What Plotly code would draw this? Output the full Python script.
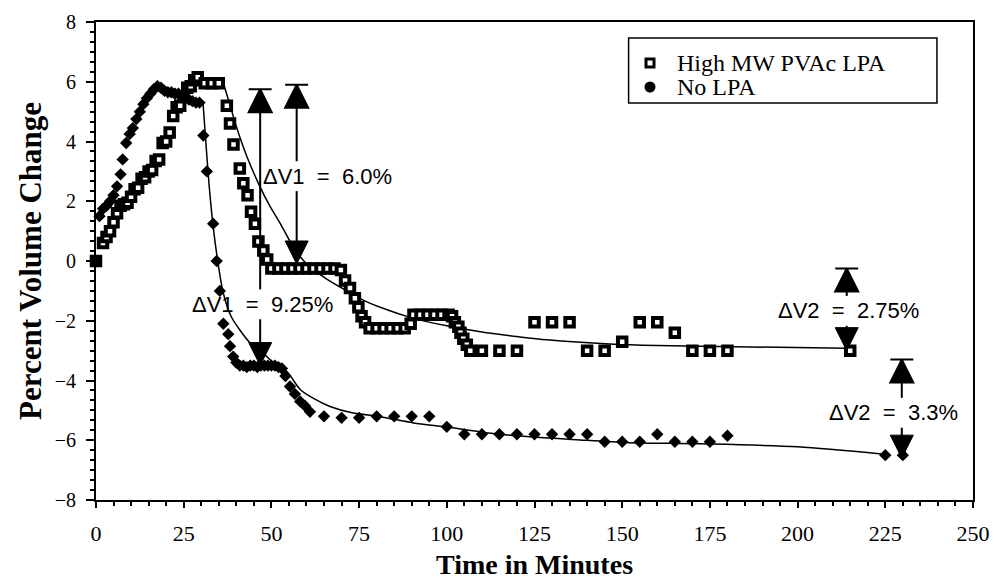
import plotly.graph_objects as go

# ---- measured volume change (%) versus time (min) ----
pvac_time = [0, 2, 3, 4, 5, 6, 7, 8, 9, 10, 11, 12, 13, 14, 15, 16, 17, 18, 19, 20,
             21, 22, 23, 24, 25, 26, 27, 28, 29, 31, 33, 35, 37.3, 38.2, 39.2, 41, 42,
             43.2, 44.2, 45.3, 46.3, 47.7, 48.8, 50, 52, 54, 56, 58, 60, 62, 64, 66, 68,
             69.8, 71, 72.4, 73.8, 74.8, 75.7, 76.7, 78, 80, 82, 84, 86, 88, 89.7, 90.5,
             92.5, 94.5, 96.5, 98.5, 100.5, 101.5, 102.3, 103.3, 103.9, 104.7, 105.7,
             106.7, 110, 115, 120, 125, 130, 135, 140, 145, 150, 155, 160, 165, 170,
             175, 180, 215]
pvac_change = [0, 0.6, 0.8, 1.0, 1.3, 1.6, 1.85, 1.9, 1.95, 2.15, 2.4, 2.45, 2.75, 2.8,
               3.0, 3.05, 3.35, 3.4, 3.95, 4.0, 4.3, 4.85, 5.15, 5.2, 5.5, 5.8, 5.85,
               6.05, 6.15, 5.95, 5.95, 5.95, 5.2, 4.6, 3.9, 3.1, 2.6, 2.2, 1.65, 1.25,
               0.65, 0.35, 0.05, -0.25, -0.25, -0.25, -0.25, -0.25, -0.25, -0.25, -0.25,
               -0.25, -0.25, -0.3, -0.65, -0.9, -1.25, -1.55, -1.85, -2.05, -2.25, -2.25,
               -2.25, -2.25, -2.25, -2.25, -2.1, -1.8, -1.8, -1.8, -1.8, -1.8, -1.8,
               -1.85, -2.05, -2.2, -2.4, -2.6, -2.8, -3.0, -3.0, -3.0, -3.0, -2.05,
               -2.05, -2.05, -3.0, -3.0, -2.7, -2.05, -2.05, -2.4, -3.0, -3.0, -3.0, -3.0]

nolpa_time = [0, 1, 2, 3, 4, 5, 6, 7, 7.6, 8.6, 9.6, 10.5, 11.5, 12.5, 13.5, 14.5, 15.5,
              16.5, 17.5, 18.5, 19.5, 20.5, 21.5, 22.5, 23.5, 24.5, 25.5, 26.5, 27.5,
              28.5, 29.5, 30.6, 31.6, 33.4, 34.4, 35.3, 36.3, 37.7, 38.2, 39.1, 40, 41,
              42, 43, 44, 45, 46, 47, 48, 49, 50, 51, 52, 53, 54, 55.3, 56.7, 58.2, 59.6,
              61, 65, 70, 75, 80, 85, 90, 95, 100, 105, 110, 115, 120, 125, 130, 135,
              140, 145, 150, 155, 160, 165, 170, 175, 180, 225, 230]
nolpa_change = [0, 1.5, 1.75, 1.85, 2.0, 2.2, 2.5, 2.9, 3.4, 3.95, 4.25, 4.45, 4.75, 5.0,
                5.25, 5.45, 5.6, 5.75, 5.85, 5.8, 5.7, 5.65, 5.65, 5.6, 5.6, 5.55, 5.45,
                5.4, 5.35, 5.3, 5.3, 4.2, 3.0, 1.25, 0.0, -1.0, -2.1, -2.45, -2.85, -3.2,
                -3.4, -3.5, -3.5, -3.55, -3.5, -3.5, -3.55, -3.5, -3.5, -3.5, -3.5, -3.5,
                -3.55, -3.6, -3.85, -4.2, -4.45, -4.7, -4.85, -5.05, -5.2, -5.25, -5.25,
                -5.2, -5.2, -5.2, -5.2, -5.55, -5.8, -5.8, -5.8, -5.8, -5.8, -5.8, -5.8,
                -5.8, -6.05, -6.05, -6.05, -5.8, -6.05, -6.05, -6.05, -5.85, -6.5, -6.5]

# ---- fitted decay curves ----
pvac_fit_time = [36.2, 38, 40, 43, 46.7, 49.5, 52.5, 55.5, 59, 62, 66, 70, 76, 81, 90.5,
                 100, 110, 120, 128.5, 146.5, 160, 182, 214]
pvac_fit_change = [6.0, 5.3, 4.5, 3.5, 2.5, 1.85, 1.26, 0.62, 0.03, -0.3, -0.62, -0.9,
                   -1.3, -1.55, -1.92, -2.17, -2.38, -2.53, -2.64, -2.78, -2.83, -2.87,
                   -2.92]
nolpa_fit_time = [30.5, 31.3, 32.2, 33.4, 34.7, 36.3, 38.5, 41, 44, 47.7, 51, 54.4, 58.2,
                  62, 66.7, 73, 81, 90.5, 100, 109.5, 120, 138, 152, 172, 200, 224]
nolpa_fit_change = [5.3, 4.0, 2.6, 1.15, 0.0, -1.08, -1.85, -2.31, -2.75, -3.09, -3.45,
                    -3.7, -4.3, -4.6, -4.87, -5.08, -5.21, -5.42, -5.56, -5.72, -5.85,
                    -5.99, -6.08, -6.12, -6.22, -6.46]

# ---- volume-change arrows ----
dv_labels = ["ΔV1 \u00a0= \u00a06.0%", "ΔV1 \u00a0= \u00a09.25%",
             "ΔV2 \u00a0= \u00a02.75%", "ΔV2 \u00a0= \u00a03.3%"]
dv_value = [6.0, 9.25, 2.75, 3.3]
dv_x = [57.2, 46.8, 214.0, 229.7]
dv_bottom = [-0.1, -3.5, -3.0, -6.6]
dv_label_x = [66.0, 47.5, 214.5, 227.3]
dv_label_y = [2.84, -1.45, -1.67, -5.08]

# ---- key entries ----
key_names = ["High MW PVAc LPA", "No LPA"]

x_ticks = [0, 25, 50, 75, 100, 125, 150, 175, 200, 225, 250]
y_ticks = [-8, -6, -4, -2, 0, 2, 4, 6, 8]

serif = "Liberation Serif, Times New Roman, serif"
sans = "Liberation Sans, Arial, Helvetica, sans-serif"

fig = go.Figure()

# fitted curves
fig.add_trace(go.Scatter(x=pvac_fit_time, y=pvac_fit_change, mode="lines",
                         name="High MW PVAc LPA fit",
                         line=dict(color="black", width=1.5, shape="spline", smoothing=0.8),
                         showlegend=False, hoverinfo="skip"))
fig.add_trace(go.Scatter(x=nolpa_fit_time, y=nolpa_fit_change, mode="lines",
                         name="No LPA fit",
                         line=dict(color="black", width=1.5, shape="spline", smoothing=0.8),
                         showlegend=False, hoverinfo="skip"))

# data points
fig.add_trace(go.Scatter(x=pvac_time, y=pvac_change, mode="markers", name=key_names[0],
                         marker=dict(symbol="square", size=8.5, color="white",
                                     line=dict(color="black", width=4)),
                         cliponaxis=False, showlegend=False))
fig.add_trace(go.Scatter(x=nolpa_time, y=nolpa_change, mode="markers", name=key_names[1],
                         marker=dict(symbol="diamond", size=9.5, color="black",
                                     line=dict(width=0)),
                         cliponaxis=False, showlegend=False))

# arrow shafts, broken around their labels
shapes = []
gap = 0.5
for x, b, v, ly in zip(dv_x, dv_bottom, dv_value, dv_label_y):
    top = b + v
    shapes.append(dict(type="line", xref="x", yref="y", x0=x, x1=x, y0=top, y1=ly + gap,
                       line=dict(color="black", width=2)))
    shapes.append(dict(type="line", xref="x", yref="y", x0=x, x1=x, y0=ly - gap, y1=b,
                       line=dict(color="black", width=2)))

# key frame and symbols
key_left, key_right, key_top, key_bottom = 0.6073, 0.9589, 0.9665, 0.8305
key_sym_x = 0.6317
key_text_x = 0.6602
key_rows_y = [0.9142, 0.8640]
shapes.append(dict(type="rect", xref="paper", yref="paper", x0=key_left, x1=key_right,
                   y0=key_bottom, y1=key_top, line=dict(color="black", width=1.5)))
shapes.append(dict(type="rect", xref="paper", yref="paper",
                   xsizemode="pixel", ysizemode="pixel",
                   xanchor=key_sym_x, yanchor=key_rows_y[0],
                   x0=-4, x1=4, y0=-4, y1=4,
                   fillcolor="white", line=dict(color="black", width=3)))
shapes.append(dict(type="circle", xref="paper", yref="paper",
                   xsizemode="pixel", ysizemode="pixel",
                   xanchor=key_sym_x, yanchor=key_rows_y[1],
                   x0=-5.5, x1=5.5, y0=-5.5, y1=5.5,
                   fillcolor="black", line=dict(color="black", width=0)))

# arrow heads
fig.add_trace(go.Scatter(x=dv_x, y=[b + v for b, v in zip(dv_bottom, dv_value)],
                         mode="markers",
                         marker=dict(symbol="arrow-bar-up", size=23, color="black",
                                     line=dict(color="black", width=2)),
                         cliponaxis=False, showlegend=False, hoverinfo="skip"))
fig.add_trace(go.Scatter(x=dv_x, y=dv_bottom, mode="markers",
                         marker=dict(symbol="arrow-down", size=23, color="black",
                                     line=dict(color="black", width=1)),
                         cliponaxis=False, showlegend=False, hoverinfo="skip"))

annotations = [dict(x=lx, y=ly, xref="x", yref="y", text=t, showarrow=False,
                    font=dict(family=sans, size=22, color="black"))
               for t, lx, ly in zip(dv_labels, dv_label_x, dv_label_y)]
annotations += [dict(x=key_text_x, y=ky, xref="paper", yref="paper", text=name,
                     showarrow=False, xanchor="left", yanchor="middle",
                     font=dict(family=serif, size=24, color="black"))
                for name, ky in zip(key_names, key_rows_y)]

axis_common = dict(showline=True, linecolor="black", linewidth=2, mirror=True,
                   ticks="outside", tickcolor="black", tickwidth=1.5,
                   showgrid=False, zeroline=False, automargin=False)

fig.update_layout(
    width=997, height=580,
    margin=dict(l=96, r=24, t=22, b=80, autoexpand=False),
    paper_bgcolor="white", plot_bgcolor="white",
    showlegend=False,
    shapes=shapes,
    annotations=annotations,
    xaxis=dict(range=[0, 250], tickvals=x_ticks, ticklen=6,
               ticklabelstandoff=7,
               tickfont=dict(family=serif, size=22, color="black"),
               minor=dict(dtick=5, ticks="outside", ticklen=4, tickcolor="black",
                          tickwidth=1.5),
               title=dict(text="<b>Time in Minutes</b>", standoff=18,
                          font=dict(family=serif, size=28, color="black")),
               **axis_common),
    yaxis=dict(range=[-8, 8], tickvals=y_ticks, ticklen=8,
               ticklabelstandoff=6,
               tickfont=dict(family=serif, size=20, color="black"),
               minor=dict(dtick=1 / 3, ticks="outside", ticklen=4, tickcolor="black",
                          tickwidth=1.5),
               title=dict(text="<b>Percent Volume Change</b>", standoff=4,
                          font=dict(family=serif, size=31, color="black")),
               **axis_common),
)

fig.write_html("out.html")
